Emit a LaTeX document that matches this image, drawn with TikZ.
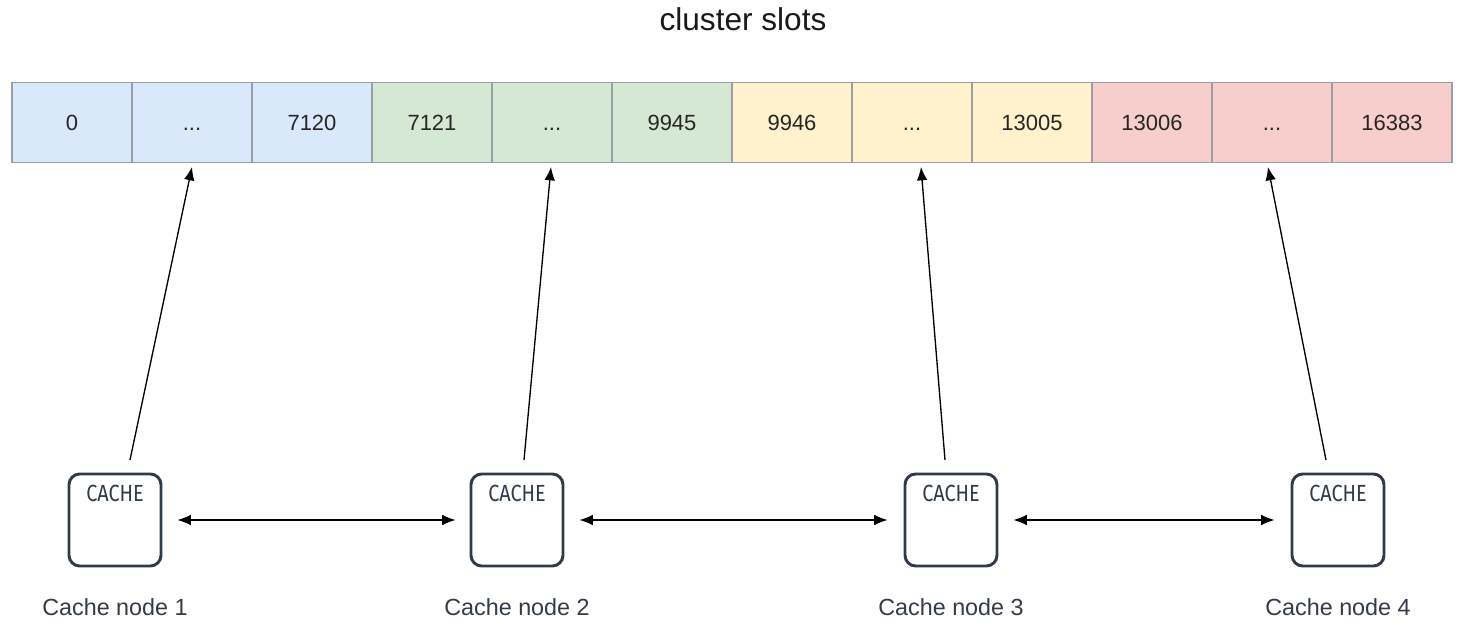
\documentclass[tikz,border=0pt]{standalone}
\usepackage{fontspec}
\setmainfont{Liberation Sans}
\newfontfamily\cachefont[FakeStretch=0.85]{Fira Sans}
\usetikzlibrary{arrows.meta,calc}
\definecolor{bluef}{HTML}{DAE8FC}
\definecolor{greenf}{HTML}{D5E8D4}
\definecolor{yellowf}{HTML}{FFF2CC}
\definecolor{redf}{HTML}{F8CECC}
\definecolor{cellline}{HTML}{9A9FA6}
\definecolor{boxline}{HTML}{2F3B4A}
\definecolor{labtext}{HTML}{333B45}
\newcommand\mydots{\vphantom{0}...}
\tikzset{
  cell/.style={draw=cellline, line width=0.9pt, minimum width=120*0.75pt, minimum height=80*0.75pt,
    inner sep=0pt, font=\fontsize{16.5}{18}\selectfont, text=black!85},
  cachebox/.style={draw=boxline, line width=2.2pt, rounded corners=8pt, minimum width=92*0.75pt,
    minimum height=92*0.75pt, inner sep=0pt},
  cachetxt/.style={font=\cachefont\fontsize{17.5}{18}\selectfont, text=boxline, inner sep=0pt},
  nodelab/.style={font=\fontsize{17.5}{19}\selectfont, text=labtext, inner sep=0pt},
  arr/.style={-{Latex[length=10pt,width=8pt]}, line width=1pt, black},
  darr/.style={{Latex[length=10pt,width=8pt]}-{Latex[length=10pt,width=8pt]}, line width=1pt, black}
}
\begin{document}
\begin{tikzpicture}[x=0.75pt,y=-0.75pt]
\useasboundingbox (0,0) rectangle (1461,641);
\node[font=\fontsize{23.7}{26}\selectfont, text=black!90] (title) at (743,19) {cluster slots};
% cells
\foreach \i/\t/\c in {0/0/bluef,1/\mydots/bluef,2/7120/bluef,3/7121/greenf,4/\mydots/greenf,5/9945/greenf,
  6/9946/yellowf,7/\mydots/yellowf,8/13005/yellowf,9/13006/redf,10/\mydots/redf,11/16383/redf}{
  \node[cell, fill=\c] (c\i) at ({72+120*\i},122.5) {\t};
}
% cache boxes
\foreach \n/\x in {1/115,2/517,3/951,4/1338}{
  \node[cachebox] (b\n) at (\x,520) {};
  \node[cachetxt, anchor=north] (t\n) at ($(b\n.north)+(0,12)$) {CACHE};
  \node[nodelab] (l\n) at (\x,607) {Cache node \n};
}
% vertical arrows
\coordinate (s1) at (130,460); \coordinate (e1) at (192,167);
\coordinate (s2) at (524,460); \coordinate (e2) at (551,167);
\coordinate (s3) at (945,460); \coordinate (e3) at (921,167);
\coordinate (s4) at (1326,460); \coordinate (e4) at (1268,167);
\foreach \k in {1,...,4}{\draw[arr] (s\k) -- (e\k);}
% horizontal arrows
\draw[darr] ($(b1.east)+(15,0)$) -- ($(b2.west)+(-14,0)$);
\draw[darr] ($(b2.east)+(15,0)$) -- ($(b3.west)+(-16,0)$);
\draw[darr] ($(b3.east)+(15,0)$) -- ($(b4.west)+(-16,0)$);
\end{tikzpicture}
\end{document}
